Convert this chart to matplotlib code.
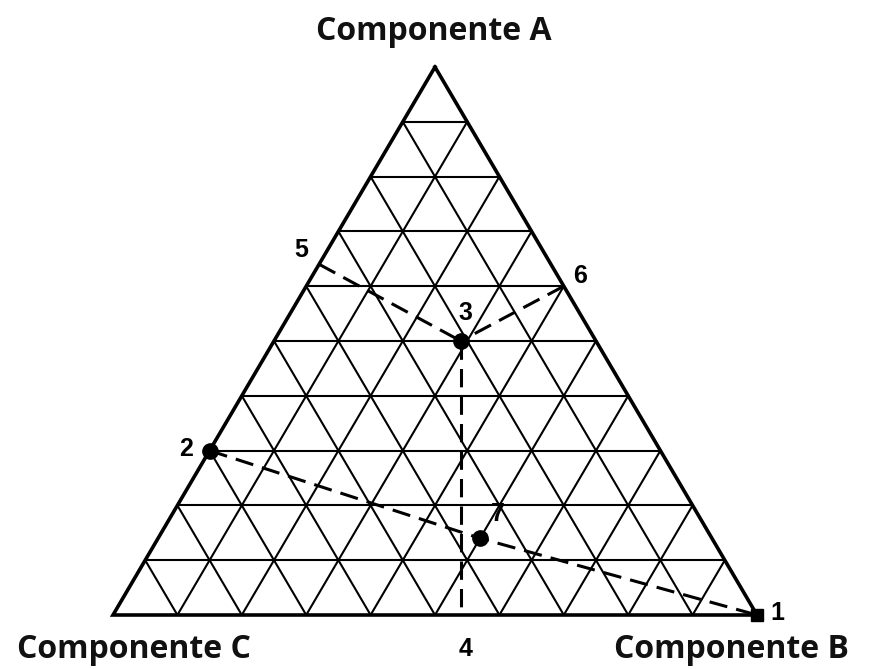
"""Ternary diagram (componentes A, B, C) with marked compositions 1-7."""
import matplotlib
matplotlib.use("Agg")
import matplotlib.pyplot as plt
import numpy as np

# vertex titles
VERTEX_LABELS = ["Componente A", "Componente B", "Componente C"]

# marked compositions (fractions of A, B, C)
POINT_NAMES = ["1", "2", "3", "4", "5", "6", "7"]
FRAC_A = [0.00, 0.30, 0.50, 0.00, 0.64, 0.60, 0.14]
FRAC_B = [1.00, 0.00, 0.29, 0.54, 0.00, 0.40, 0.50]
FRAC_C = [0.00, 0.70, 0.21, 0.46, 0.36, 0.00, 0.36]
DOT_POINTS = ["1", "2", "3", "7"]

# dashed tie lines, as sequences of point names
TIE_LINES = [["5", "3"], ["6", "3"], ["3", "4"], ["2", "7", "1"]]

N_DIV = 10
H = 548 / 644  # drawing is slightly squashed vs. equilateral


def to_xy(a, b, c):
    a, b, c = np.asarray(a, float), np.asarray(b, float), np.asarray(c, float)
    s = a + b + c
    return (b + a / 2) / s, H * a / s


fig = plt.figure(figsize=(8.75, 6.69), dpi=100)
ax = fig.add_axes([0, 0, 1, 1])
ax.set_xlim(-113 / 644, (875 - 113) / 644)
ax.set_ylim((615 - 669) / 644, 615 / 644)
ax.axis("off")

# grid
for k in range(1, N_DIV):
    f = k / N_DIV
    for p, q in [((f, 0, 1 - f), (f, 1 - f, 0)),
                 ((0, f, 1 - f), (1 - f, f, 0)),
                 ((0, 1 - f, f), (1 - f, 0, f))]:
        x, y = to_xy(*zip(p, q))
        ax.plot(x, y, color="black", lw=1.5, solid_capstyle="butt")

# outline
x, y = to_xy([1, 0, 0, 1], [0, 1, 0, 0], [0, 0, 1, 0])
ax.plot(x, y, color="black", lw=2.6, solid_joinstyle="miter")

pts = {n: to_xy(a, b, c) for n, a, b, c in zip(POINT_NAMES, FRAC_A, FRAC_B, FRAC_C)}

for seq in TIE_LINES:
    xs = [pts[n][0] for n in seq]
    ys = [pts[n][1] for n in seq]
    ax.plot(xs, ys, color="black", lw=2.2, dashes=(6, 3))

for n in DOT_POINTS:
    m = "s" if n == "1" else "o"
    ax.plot(*pts[n], marker=m, ms=11 if m == "o" else 8, color="black")

# label offsets in pixels
offsets = {"1": (20, 2), "2": (-24, 2), "3": (5, 28), "4": (5, -34),
           "5": (-18, 14), "6": (16, 10), "7": (18, 24)}
for n in POINT_NAMES:
    dx, dy = offsets[n]
    ax.annotate(n, pts[n], xytext=(dx * 0.72, dy * 0.72), textcoords="offset points",
                ha="center", va="center", fontsize=18, fontweight="bold",
                family="Liberation Sans", zorder=5)

title_kw = dict(fontsize=23, fontweight="bold", family="Open Sans",
                color="#111111", ha="center", va="center")
fig.text(434 / 875, 1 - 31 / 669, VERTEX_LABELS[0], **title_kw)
fig.text(731 / 875, 1 - 649 / 669, VERTEX_LABELS[1], **title_kw)
fig.text(134 / 875, 1 - 649 / 669, VERTEX_LABELS[2], **title_kw)

fig.savefig("out.png", dpi=100)
